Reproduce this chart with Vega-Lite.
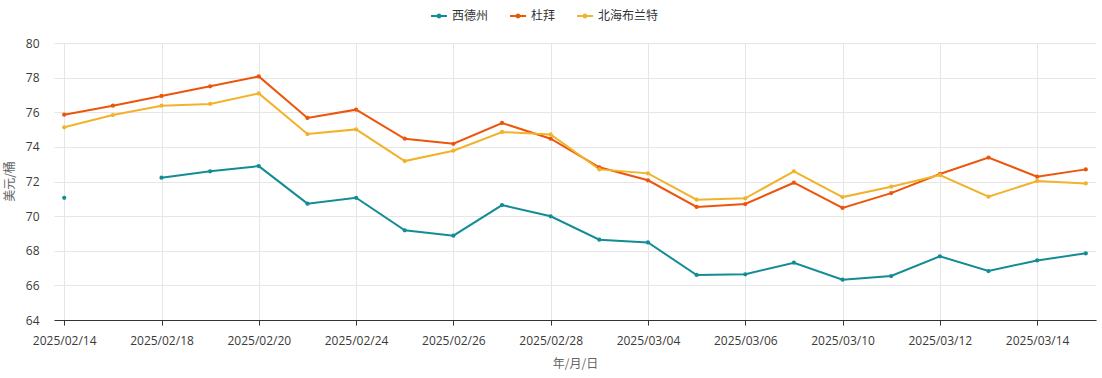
{
  "$schema": "https://vega.github.io/schema/vega-lite/v6.json",
  "width": 1042,
  "height": 277,
  "autosize": {"type": "none"},
  "padding": {"left": 54, "top": 43, "right": 6, "bottom": 58},
  "background": "#ffffff",
  "config": {
    "font": "Open Sans",
    "view": {"stroke": null},
    "axis": {"labelFont": "Open Sans", "titleFont": "Noto Sans CJK SC", "labelFontSize": 12, "titleFontSize": 12, "labelColor": "#3a3a3a", "titleColor": "#666666", "titleFontWeight": "normal", "gridColor": "#e6e6e6", "gridWidth": 1}
  },
  "datasets": {
    "oil": [
      {"date": "2025/02/14", "series": "西德州", "value": 71.06},
      {"date": "2025/02/17", "series": "西德州", "value": null},
      {"date": "2025/02/18", "series": "西德州", "value": 72.22},
      {"date": "2025/02/19", "series": "西德州", "value": 72.59},
      {"date": "2025/02/20", "series": "西德州", "value": 72.89},
      {"date": "2025/02/21", "series": "西德州", "value": 70.72},
      {"date": "2025/02/24", "series": "西德州", "value": 71.06},
      {"date": "2025/02/25", "series": "西德州", "value": 69.18},
      {"date": "2025/02/26", "series": "西德州", "value": 68.87},
      {"date": "2025/02/27", "series": "西德州", "value": 70.64},
      {"date": "2025/02/28", "series": "西德州", "value": 69.99},
      {"date": "2025/03/03", "series": "西德州", "value": 68.64},
      {"date": "2025/03/04", "series": "西德州", "value": 68.48},
      {"date": "2025/03/05", "series": "西德州", "value": 66.60},
      {"date": "2025/03/06", "series": "西德州", "value": 66.64},
      {"date": "2025/03/07", "series": "西德州", "value": 67.31},
      {"date": "2025/03/10", "series": "西德州", "value": 66.33},
      {"date": "2025/03/11", "series": "西德州", "value": 66.54},
      {"date": "2025/03/12", "series": "西德州", "value": 67.68},
      {"date": "2025/03/13", "series": "西德州", "value": 66.83},
      {"date": "2025/03/14", "series": "西德州", "value": 67.44},
      {"date": "2025/03/17", "series": "西德州", "value": 67.85},
      {"date": "2025/02/14", "series": "杜拜", "value": 75.86},
      {"date": "2025/02/17", "series": "杜拜", "value": 76.38},
      {"date": "2025/02/18", "series": "杜拜", "value": 76.94},
      {"date": "2025/02/19", "series": "杜拜", "value": 77.50},
      {"date": "2025/02/20", "series": "杜拜", "value": 78.07},
      {"date": "2025/02/21", "series": "杜拜", "value": 75.67},
      {"date": "2025/02/24", "series": "杜拜", "value": 76.15},
      {"date": "2025/02/25", "series": "杜拜", "value": 74.47},
      {"date": "2025/02/26", "series": "杜拜", "value": 74.18},
      {"date": "2025/02/27", "series": "杜拜", "value": 75.38},
      {"date": "2025/02/28", "series": "杜拜", "value": 74.47},
      {"date": "2025/03/03", "series": "杜拜", "value": 72.82},
      {"date": "2025/03/04", "series": "杜拜", "value": 72.07},
      {"date": "2025/03/05", "series": "杜拜", "value": 70.53},
      {"date": "2025/03/06", "series": "杜拜", "value": 70.70},
      {"date": "2025/03/07", "series": "杜拜", "value": 71.93},
      {"date": "2025/03/10", "series": "杜拜", "value": 70.47},
      {"date": "2025/03/11", "series": "杜拜", "value": 71.33},
      {"date": "2025/03/12", "series": "杜拜", "value": 72.43},
      {"date": "2025/03/13", "series": "杜拜", "value": 73.38},
      {"date": "2025/03/14", "series": "杜拜", "value": 72.28},
      {"date": "2025/03/17", "series": "杜拜", "value": 72.70},
      {"date": "2025/02/14", "series": "北海布兰特", "value": 75.13},
      {"date": "2025/02/17", "series": "北海布兰特", "value": 75.84},
      {"date": "2025/02/18", "series": "北海布兰特", "value": 76.38},
      {"date": "2025/02/19", "series": "北海布兰特", "value": 76.48},
      {"date": "2025/02/20", "series": "北海布兰特", "value": 77.09},
      {"date": "2025/02/21", "series": "北海布兰特", "value": 74.74},
      {"date": "2025/02/24", "series": "北海布兰特", "value": 75.01},
      {"date": "2025/02/25", "series": "北海布兰特", "value": 73.18},
      {"date": "2025/02/26", "series": "北海布兰特", "value": 73.78},
      {"date": "2025/02/27", "series": "北海布兰特", "value": 74.86},
      {"date": "2025/02/28", "series": "北海布兰特", "value": 74.72},
      {"date": "2025/03/03", "series": "北海布兰特", "value": 72.70},
      {"date": "2025/03/04", "series": "北海布兰特", "value": 72.47},
      {"date": "2025/03/05", "series": "北海布兰特", "value": 70.95},
      {"date": "2025/03/06", "series": "北海布兰特", "value": 71.03},
      {"date": "2025/03/07", "series": "北海布兰特", "value": 72.59},
      {"date": "2025/03/10", "series": "北海布兰特", "value": 71.10},
      {"date": "2025/03/11", "series": "北海布兰特", "value": 71.70},
      {"date": "2025/03/12", "series": "北海布兰特", "value": 72.37},
      {"date": "2025/03/13", "series": "北海布兰特", "value": 71.12},
      {"date": "2025/03/14", "series": "北海布兰特", "value": 72.03},
      {"date": "2025/03/17", "series": "北海布兰特", "value": 71.89}
    ]
  },
  "data": {"name": "oil"},
  "encoding": {
    "x": {
      "field": "date",
      "type": "ordinal",
      "sort": "ascending",
      "scale": {"type": "point", "padding": 0.21},
      "axis": {
        "title": "年/月/日",
        "values": ["2025/02/14", "2025/02/18", "2025/02/20", "2025/02/24", "2025/02/26", "2025/02/28", "2025/03/04", "2025/03/06", "2025/03/10", "2025/03/12", "2025/03/14"],
        "labelAngle": 0,
        "labelPadding": 10,
        "tickSize": 5,
        "tickColor": "#333333",
        "domainColor": "#333333",
        "grid": true,
        "titlePadding": 12
      }
    },
    "y": {
      "field": "value",
      "type": "quantitative",
      "scale": {"domain": [64, 80], "nice": false, "zero": false},
      "axis": {
        "title": "美元/桶",
        "values": [64, 66, 68, 70, 72, 74, 76, 78, 80],
        "domain": false,
        "ticks": false,
        "labelPadding": 15,
        "titleX": -38,
        "titleY": 138,
        "grid": true
      }
    }
  },
  "layer": [
    {
      "mark": {"type": "line", "strokeWidth": 2, "invalid": "break-paths-show-domains"},
      "encoding": {
        "color": {"field": "series", "type": "nominal", "legend": null, "scale": {"domain": ["西德州", "杜拜", "北海布兰特"], "range": ["#138c96", "#ec550b", "#f2b32c"]}}
      }
    },
    {
      "mark": {"type": "point", "filled": true, "size": 18, "opacity": 1},
      "encoding": {
        "color": {
          "field": "series",
          "type": "nominal",
          "scale": {"domain": ["西德州", "杜拜", "北海布兰特"], "range": ["#138c96", "#ec550b", "#f2b32c"]},
          "legend": {
            "title": null,
            "orient": "none",
            "direction": "horizontal",
            "legendX": 377,
            "legendY": -35,
            "symbolType": "M-1,-0.13H1V0.13H-1Z M0.31,0A0.31,0.31,0,1,1,-0.31,0A0.31,0.31,0,1,1,0.31,0Z",
            "symbolSize": 256,
            "symbolStrokeWidth": 0,
            "symbolOpacity": 1,
            "labelFontSize": 12,
            "labelColor": "#333333",
            "labelFont": "Noto Sans CJK SC",
            "labelOffset": 5,
            "columnPadding": 21
          }
        }
      }
    }
  ],
  "resolve": {"legend": {"color": "independent"}}
}
